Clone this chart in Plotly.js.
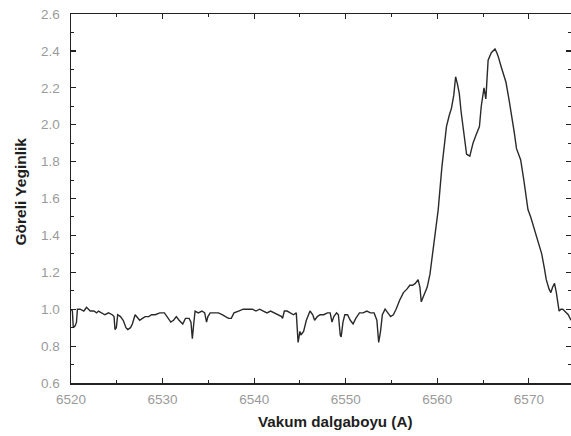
<!DOCTYPE html>
<html>
<head>
<meta charset="utf-8">
<script src="https://cdn.plot.ly/plotly-3.0.1.min.js"></script>
<style>html,body{margin:0;padding:0;background:#fff;}#chart{width:571px;height:436px;}</style>
</head>
<body>
<div id="chart"></div>
<script>
var wavelength = [
6520.0,6520.15,6520.25,6520.45,6520.6,6520.7,6521.0,6521.4,6521.7,6522.1,6522.5,6522.8,6523.0,6523.4,6523.7,6524.1,6524.5,6524.7,6524.8,6524.95,
6525.1,6525.4,6525.7,6526.0,6526.2,6526.5,6526.7,6527.0,6527.2,6527.5,6527.8,6528.1,6528.5,6528.8,6529.2,6529.7,6530.2,6530.5,6530.9,6531.2,
6531.5,6531.8,6532.2,6532.5,6532.9,6533.1,6533.25,6533.4,6533.55,6533.9,6534.3,6534.6,6534.8,6534.95,6535.2,6535.6,6536.1,6536.5,6536.8,6537.2,
6537.5,6537.8,6538.3,6538.8,6539.3,6539.8,6540.2,6540.6,6541.0,6541.4,6541.8,6542.2,6542.6,6543.0,6543.1,6543.3,6543.6,6543.9,6544.3,6544.6,
6544.8,6545.0,6545.1,6545.4,6545.7,6546.1,6546.4,6546.6,6546.9,6547.2,6547.6,6548.0,6548.3,6548.5,6548.7,6549.0,6549.2,6549.4,6549.5,6549.7,
6549.9,6550.2,6550.5,6550.8,6551.1,6551.5,6551.9,6552.3,6552.7,6553.1,6553.4,6553.6,6553.8,6554.0,6554.3,6554.6,6554.9,6555.2,6555.5,6555.9,
6556.3,6556.7,6557.0,6557.3,6557.6,6557.9,6558.1,6558.25,6558.4,6558.6,6558.9,6559.2,6559.5,6559.7,6560.1,6560.5,6560.8,6561.0,6561.3,6561.55,
6561.8,6562.0,6562.2,6562.4,6562.6,6562.8,6563.0,6563.2,6563.55,6563.9,6564.2,6564.6,6564.8,6565.1,6565.3,6565.55,6565.9,6566.1,6566.3,6566.5,
6566.65,6567.0,6567.2,6567.5,6567.85,6568.2,6568.4,6568.65,6568.9,6569.1,6569.45,6569.9,6570.2,6570.65,6571.0,6571.4,6571.7,6571.9,6572.2,6572.4,
6572.6,6572.8,6573.0,6573.15,6573.3,6573.5,6573.7,6573.9,6574.1,6574.3,6574.6
];
var intensity = [
1.00,0.99,0.90,0.91,0.93,1.00,1.00,0.99,1.01,0.99,0.99,0.98,0.99,0.98,0.97,0.98,0.97,0.96,0.89,0.90,
0.97,0.96,0.94,0.90,0.89,0.90,0.92,0.97,0.96,0.94,0.95,0.96,0.96,0.97,0.97,0.98,0.98,0.96,0.93,0.94,
0.96,0.94,0.92,0.95,0.95,0.93,0.84,0.92,0.99,0.98,0.99,0.98,0.93,0.96,0.98,0.98,0.98,0.97,0.96,0.95,
0.95,0.98,0.99,1.00,1.00,1.00,0.99,1.00,0.99,0.98,0.99,0.98,0.97,0.96,0.95,0.99,0.99,0.98,0.97,0.98,
0.82,0.88,0.86,0.88,0.94,0.99,0.97,0.94,0.96,0.97,0.97,0.98,0.98,0.93,0.96,0.98,0.97,0.86,0.85,0.93,
0.97,0.97,0.94,0.92,0.95,0.98,0.98,0.99,0.98,0.98,0.94,0.82,0.88,0.97,1.00,0.98,0.96,0.97,1.00,1.05,
1.09,1.11,1.13,1.13,1.14,1.16,1.12,1.04,1.06,1.09,1.12,1.19,1.30,1.39,1.54,1.77,1.92,1.99,2.05,2.09,
2.16,2.26,2.22,2.17,2.07,1.99,1.90,1.84,1.83,1.90,1.94,1.99,2.10,2.20,2.14,2.35,2.39,2.40,2.41,2.39,
2.37,2.31,2.28,2.23,2.13,2.03,1.96,1.87,1.84,1.81,1.70,1.54,1.50,1.43,1.37,1.30,1.22,1.16,1.11,1.09,
1.12,1.14,1.09,1.03,0.99,1.00,1.00,0.99,0.98,0.97,0.94
];
var xTitle = "Vakum dalgaboyu (A)";
var yTitle = "Göreli Yeginlik";

var trace = {
  x: wavelength, y: intensity, type: 'scatter', mode: 'lines',
  line: {color: '#2a2a2a', width: 1.4}, hoverinfo: 'skip'
};
var FONT = 'Liberation Sans, Arial, sans-serif';
var tickFont = {family: FONT, size: 13.5, color: '#9a9a9a'};
var layout = {
  width: 571, height: 436,
  margin: {l: 71, r: 0, t: 14, b: 53},
  paper_bgcolor: '#fff', plot_bgcolor: '#fff',
  showlegend: false,
  xaxis: {
    range: [6520, 6574.6], dtick: 10, tick0: 6520,
    ticks: 'inside', ticklen: 5, tickwidth: 1.2, tickcolor: '#222',
    showline: true, linecolor: '#222', linewidth: 1.5, mirror: 'ticks',
    showgrid: false, zeroline: false,
    minor: {dtick: 5, ticks: 'inside', ticklen: 3, tickcolor: '#222', tickwidth: 1},
    tickfont: tickFont, ticklabelstandoff: 3
  },
  yaxis: {
    range: [0.6, 2.6], dtick: 0.2, tick0: 0.6, tickformat: '.1f',
    ticks: 'inside', ticklen: 5, tickwidth: 1.2, tickcolor: '#222',
    showline: true, linecolor: '#222', linewidth: 1.5, mirror: 'ticks',
    showgrid: false, zeroline: false,
    minor: {dtick: 0.1, ticks: 'inside', ticklen: 3, tickcolor: '#222', tickwidth: 1},
    tickfont: tickFont, ticklabelstandoff: 7
  },
  annotations: [
    {text: '<b>' + xTitle + '</b>', xref: 'paper', yref: 'paper', x: 0.528, y: -0.103,
     xanchor: 'center', yanchor: 'middle', showarrow: false,
     font: {family: FONT, size: 15.2, color: '#1e1e1e'}},
    {text: '<b>' + yTitle + '</b>', xref: 'paper', yref: 'paper', x: -0.102, y: 0.519,
     xanchor: 'center', yanchor: 'middle', textangle: -90, showarrow: false,
     font: {family: FONT, size: 15.5, color: '#1e1e1e'}}
  ]
};
Plotly.newPlot('chart', [trace], layout, {staticPlot: true, displayModeBar: false});
</script>
</body>
</html>
